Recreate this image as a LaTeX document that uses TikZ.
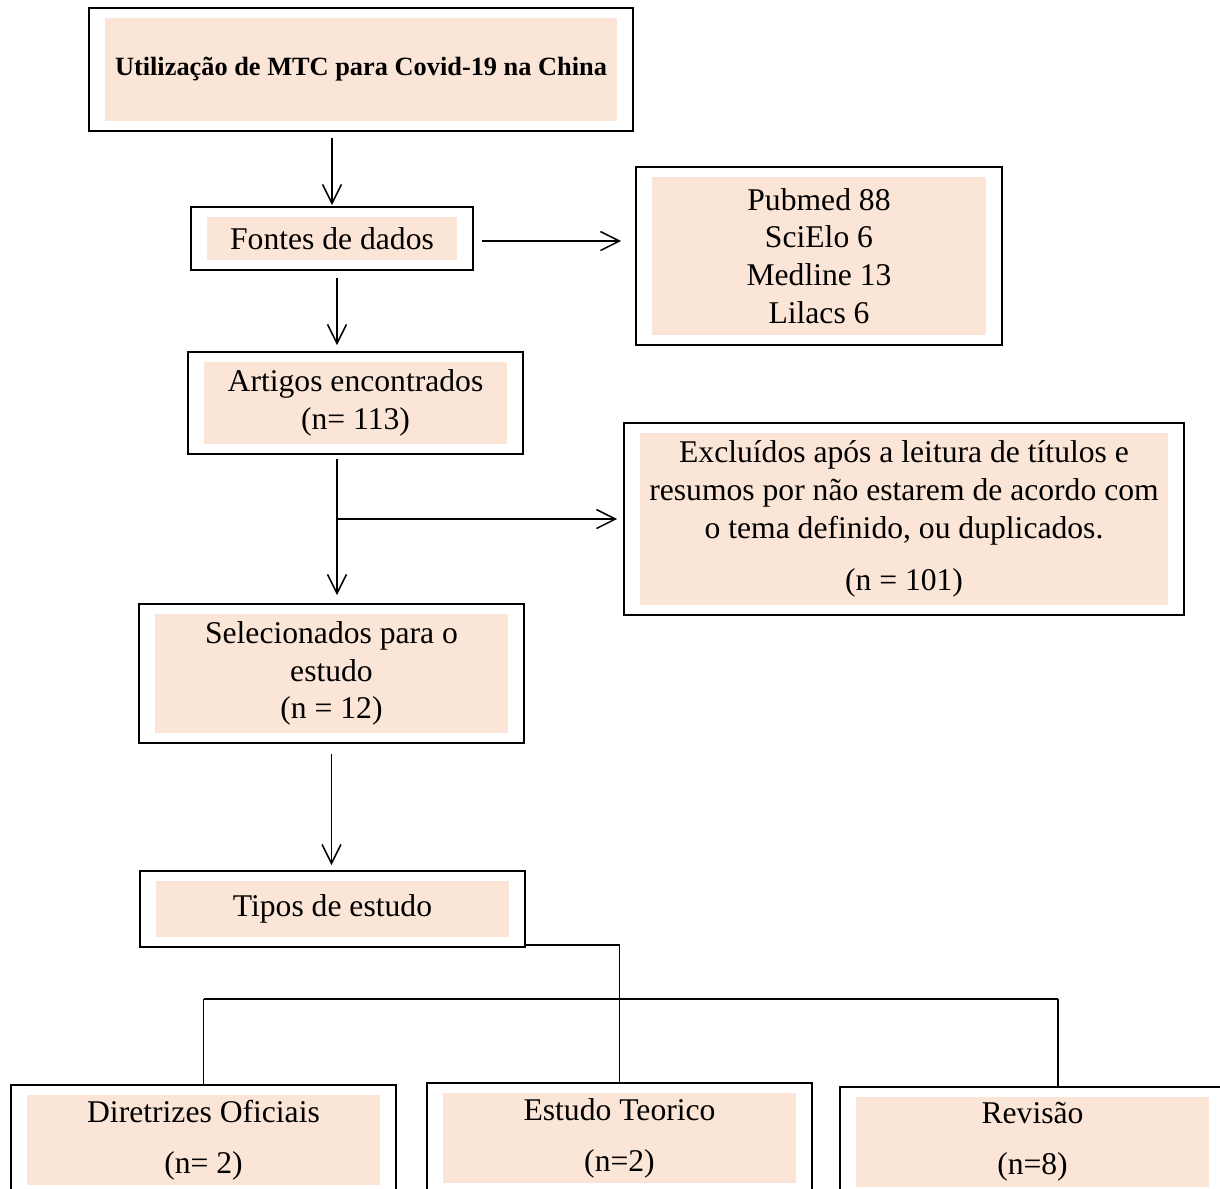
\documentclass[tikz,border=0pt]{standalone}
\usepackage{fontspec}
\setmainfont{Liberation Serif}
\usepackage{xcolor}
\usepackage{tikz}
\usetikzlibrary{arrows.meta}
\definecolor{pessego}{HTML}{FBE5D6}

\begin{document}
\begin{tikzpicture}
      [ x=0.02cm, y=-0.02cm,
        caixa/.style 2 args={draw, line width=1.1pt, inner sep=0pt, align=center,
          minimum width=#1, minimum height=#2,
          font=\fontsize{18}{21.5}\selectfont,
          path picture={\fill[pessego]
            ([xshift=0.32cm,yshift=-0.2cm]path picture bounding box.north west) rectangle
            ([xshift=-0.32cm,yshift=0.2cm]path picture bounding box.south east);}},
        seta/.style={line width=0.85pt, -{Straight Barb[length=3.8mm,width=3.8mm]}},
        liga/.style={line width=0.85pt}
      ]
      \useasboundingbox (0,0) rectangle (1220,1188);
      \clip (0,0) rectangle (1220,1188);

      \node[caixa={10.88cm}{2.46cm}] (titulo)  at (361,69.5)
        {\fontsize{15}{18}\selectfont\bfseries Utilização de MTC para Covid-19 na China};
      \node[caixa={5.64cm}{1.26cm}]  (fontes)  at (332,238.5) {Fontes de dados};
      \node[caixa={7.32cm}{3.56cm}]  (bases)   at (819,256)
        {Pubmed 88\\SciElo 6\\Medline 13\\Lilacs 6};
      \node[caixa={6.70cm}{2.04cm}]  (artigos) at (355.5,403)
        {Artigos encontrados\\(n= 113)};
      \node[caixa={11.20cm}{3.84cm}] (excl)    at (904,519)
        {Excluídos após a leitura de títulos e\\resumos por não estarem de acordo com\\o tema definido, ou duplicados.\\[8pt](n = 101)};
      \node[caixa={7.70cm}{2.78cm}]  (selec)   at (331.5,673.5)
        {Selecionados para o\\estudo\\(n = 12)};
      \node[caixa={7.70cm}{1.52cm}]  (tipos)   at (332.5,909) {Tipos de estudo};
      \node[caixa={7.70cm}{2.20cm}]  (dir)     at (203.5,1140)
        {Diretrizes Oficiais\\[7.5pt](n= 2)};
      \node[caixa={7.70cm}{2.20cm}]  (teo)     at (619.5,1138)
        {Estudo Teorico\\[7.5pt](n=2)};
      \node[caixa={7.70cm}{2.20cm}]  (rev)     at (1032.5,1142)
        {Revisão\\[7.5pt](n=8)};

      \coordinate (junc) at (619.5,999);

      \draw[seta, shorten <=0.12cm, shorten >=0.02cm]
        (titulo.south -| fontes.north) -- (fontes.north);
      \draw[seta, shorten <=0.16cm, shorten >=0.28cm]
        ([yshift=-0.05cm]fontes.east) -- ([yshift=-0.05cm]fontes.east -| bases.west);
      \draw[seta, shorten <=0.14cm, shorten >=0.12cm]
        ([xshift=0.1cm]fontes.south) -- ([xshift=0.1cm]fontes.south |- artigos.north);
      \draw[seta, shorten <=0.08cm, shorten >=0.16cm]
        ([xshift=-0.37cm]artigos.south) -- ([xshift=-0.37cm]artigos.south |- selec.north);
      \draw[seta, shorten >=0.12cm]
        ([xshift=-0.37cm]artigos.south |- excl.west) -- (excl.west);
      \draw[seta, shorten <=0.2cm, shorten >=0.1cm]
        (selec.south) -- (selec.south |- tipos.north);

      \draw[liga] ([yshift=0.06cm]tipos.south east) -| (junc);
      \draw[line width=1.1pt] (dir.north |- junc) -- ([xshift=0.51cm]rev.north |- junc);
      \draw[liga] (dir.north |- junc) -- (dir.north);
      \draw[liga] (junc) -- (teo.north);
      \draw[liga] ([xshift=0.51cm]rev.north |- junc) -- ([xshift=0.51cm]rev.north);
    \end{tikzpicture}
\end{document}
